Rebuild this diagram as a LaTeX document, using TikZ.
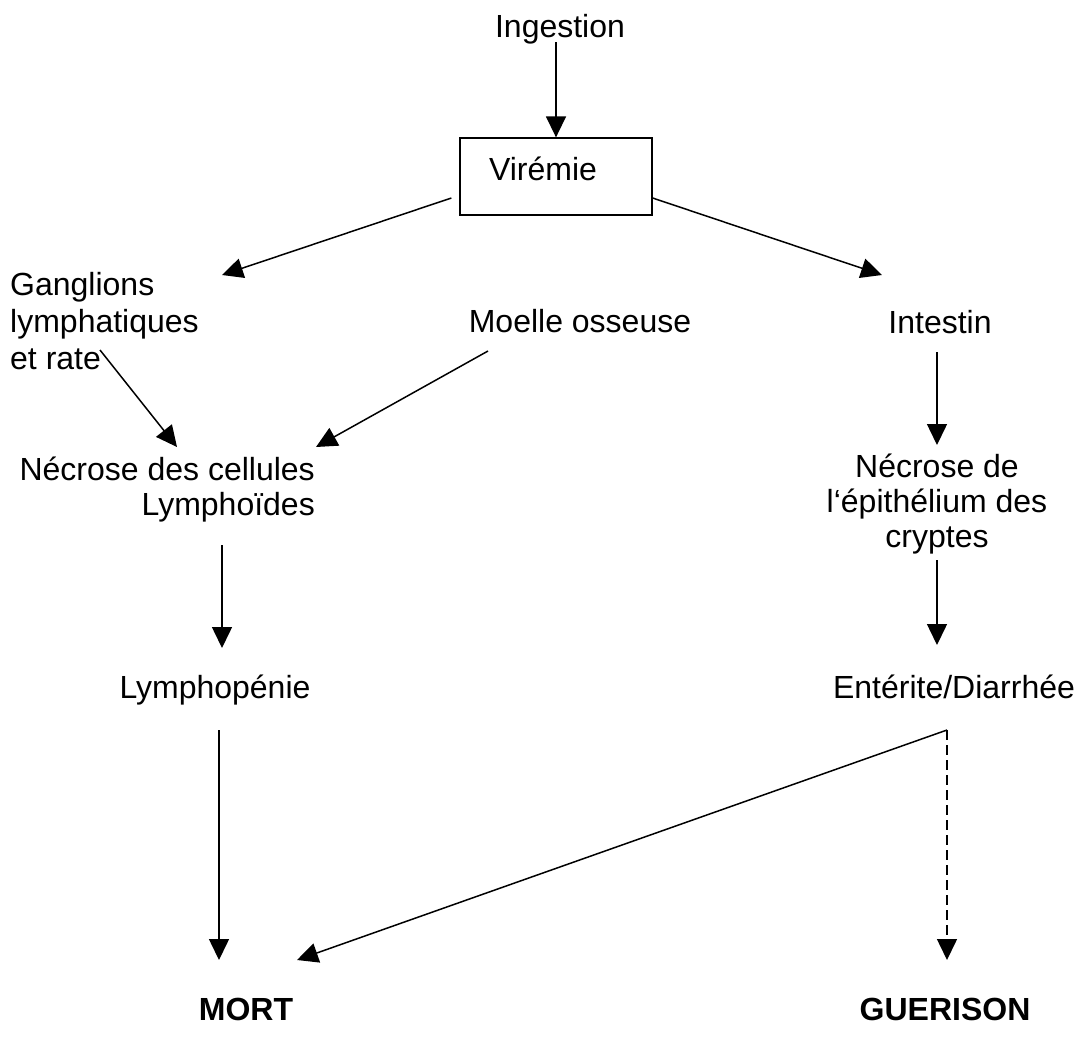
\documentclass[tikz,border=0pt]{standalone}
\usepackage{fontspec}
\setmainfont{Liberation Sans}
\usetikzlibrary{arrows.meta}
\begin{document}
\begin{tikzpicture}[x=1pt,y=-1pt,
  txt/.style={inner sep=0pt,font=\fontsize{32}{36}\selectfont},
  arr/.style={line width=1.5pt,-{Triangle[length=21pt,width=20pt]}},
  dsh/.style={arr,dash pattern=on 10pt off 5pt}]
\useasboundingbox (0,0) rectangle (1081,1037);
\node[txt,anchor=base] (ing) at (560,37) {Ingestion};
\node[draw,line width=1.3pt,minimum width=192pt,minimum height=77pt,inner sep=0pt] (vir) at (556,176.5) {};
\node[txt,anchor=base] (virt) at (543,180) {Virémie};
\node[txt,anchor=base west,align=left,font=\fontsize{32}{37}\selectfont] (gang) at (10,369) {Ganglions\\lymphatiques\\et rate};
\node[txt,anchor=base] (moelle) at (580,332) {Moelle osseuse};
\node[txt,anchor=base] (intes) at (940,333) {Intestin};
\node[txt,anchor=base east,align=right,font=\fontsize{32}{35}\selectfont] (nec1) at (315,515) {Nécrose des cellules\\Lymphoïdes};
\node[txt,anchor=base,align=center,font=\fontsize{32}{35}\selectfont] (nec2) at (937,547) {Nécrose de\\l‘épithélium des\\cryptes};
\node[txt,anchor=base] (lymph) at (215,698) {Lymphopénie};
\node[txt,anchor=base] (ent) at (954,698) {Entérite/Diarrhée};
\node[txt,anchor=base,font=\fontsize{32}{36}\selectfont\bfseries] (mort) at (246,1020) {MORT};
\node[txt,anchor=base,font=\fontsize{32}{36}\selectfont\bfseries] (guer) at (945,1020) {GUERISON};
\draw[arr] ([shift={(-4,5)}]ing.base) -- (vir.north);
\draw[arr] ([shift={(-8,21.5)}]vir.west) -- ([shift={(212,-94)}]gang.base west);
\draw[arr] ([shift={(0,21.5)}]vir.east) -- ([shift={(-58,-58)}]intes.base);
\draw[arr] ([shift={(90,-19)}]gang.base west) -- ([shift={(-138,-68)}]nec1.base east);
\draw[arr] ([shift={(-92,19)}]moelle.base) -- ([shift={(1,-68)}]nec1.base east);
\draw[arr] ([shift={(-3,19)}]intes.base) -- ([shift={(0,-102)}]nec2.base);
\draw[arr] ([shift={(-93,30)}]nec1.base east) -- ([shift={(7,-50)}]lymph.base);
\draw[arr] ([shift={(0,13)}]nec2.base) -- ([shift={(-17,-53)}]ent.base);
\draw[arr] ([shift={(4,32)}]lymph.base) -- ([shift={(-27,-60)}]mort.base);
\draw[arr] ([shift={(-7,32)}]ent.base) -- ([shift={(51,-60)}]mort.base);
\draw[dsh] ([shift={(-7,32)}]ent.base) -- ([shift={(2,-60)}]guer.base);
\end{tikzpicture}
\end{document}
